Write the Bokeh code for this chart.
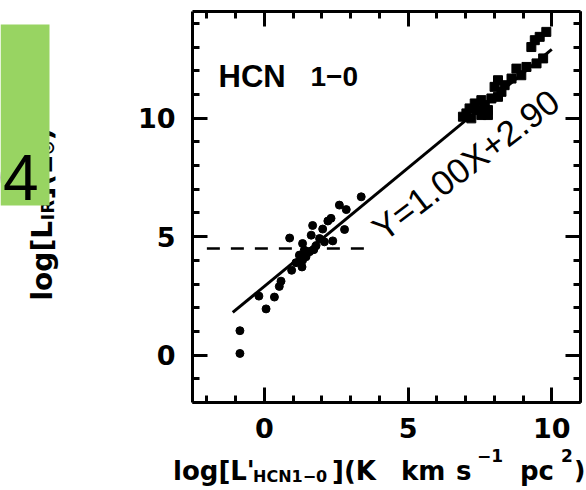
import math
from bokeh.plotting import figure
from bokeh.models import Range1d, LinearAxis, FixedTicker, Label, Div
from bokeh.layouts import row, column
from bokeh.embed import file_html
from bokeh.resources import INLINE
from bokeh.core.properties import value

# ---------------- data ----------------
circle_x = [-0.85, -0.85, 0.06, -0.19, 0.35, 0.52, 0.58, 0.95, 1.31, 1.33, 1.45,
            1.22, 1.39, 1.57, 0.88, 1.33, 1.80, 1.63, 1.92, 2.09, 2.38, 1.68,
            2.03, 2.21, 2.32, 2.79, 2.61, 2.85, 3.37, 1.10, 1.72]
circle_y = [0.07, 1.03, 1.95, 2.49, 2.45, 2.90, 3.12, 3.58, 3.72, 4.00, 4.15,
            4.22, 4.43, 4.36, 4.94, 4.71, 4.62, 5.06, 4.92, 4.78, 4.82, 5.47,
            5.32, 5.66, 5.77, 5.30, 6.33, 6.14, 6.68, 3.90, 4.45]
square_x = [9.81, 9.58, 9.41, 9.29, 9.70, 9.47, 9.12, 8.77, 8.94, 8.60, 8.13,
            8.36, 8.01, 8.25, 8.13, 7.90, 7.55, 7.32, 7.67, 7.78, 7.43, 7.14,
            7.03, 6.91, 7.20, 7.55, 7.78]
square_y = [13.64, 13.43, 13.29, 13.00, 12.52, 12.31, 12.16, 12.09, 11.81, 11.67,
            11.60, 11.39, 11.32, 11.11, 10.90, 10.83, 10.76, 10.62, 10.55, 10.34,
            10.34, 10.41, 10.20, 10.06, 9.99, 10.13, 10.13]
fit_x = [-1.1, 10.0]
fit_y = [1.8, 12.9]
dash_x = [-2.0, 3.7]
dash_y = [4.5, 4.5]
x_major = [0, 5, 10]
x_minor = [-2, -1, 0, 1, 2, 3, 4, 5, 6, 7, 8, 9, 10, 11]
y_major = [0, 5, 10]
y_minor = [-2, -1, 0, 1, 2, 3, 4, 5, 6, 7, 8, 9, 10, 11, 12, 13, 14]
fit_text = "Y=1.00X+2.90"
panel_text = ["HCN", "1\u22120"]

FONT = "DejaVu Sans"
HELV = "Liberation Sans"

H_TOP = 450           # height of the plot row (page pixels)
FL, FR, FT, FB = 192, 580, 11, 402  # plot frame in page pixels
XMIN, XMAX, YMIN, YMAX = -2.5, 11.0, -2.0, 14.5

# ---------------- left strip: y-axis title under a green box ----------------
# coordinates: x = page x, y = 490 - page y
a = figure(width=60, height=H_TOP, x_range=Range1d(0, 60),
           y_range=Range1d(490 - FB, 490 - FT),
           x_axis_location=None, y_axis_location=None, toolbar_location=None,
           output_backend="svg", min_border_left=0, min_border_right=0,
           min_border_top=FT, min_border_bottom=H_TOP - FB)
a.grid.visible = False
a.outline_line_color = None

ylab = [("log[L", 42, 190, "28px"), ("IR", 47, 270, "18px"),
        ("](L", 42, 291, "28px"), ("\u2299", 47, 335, "18px"), (")", 42, 350, "28px")]
for t, xx, yy, fs in ylab:
    a.text(x=[xx], y=[yy], text=[t], angle=math.pi / 2, text_align="left",
           text_baseline="alphabetic", text_font=value(FONT), text_font_style="bold",
           text_font_size=fs, text_color="black")

a.quad(left=[0], right=[49], bottom=[490 - 205], top=[490 - 24],
       fill_color="#98D462", line_color=None)
a.text(x=[38], y=[490 - 177], text=["04"], text_align="right", text_baseline="alphabetic",
       text_font=value(HELV), text_font_size="64px", text_color="black")

# ---------------- main plot ----------------


def dx(px):
    return XMIN + (px - FL) / (FR - FL) * (XMAX - XMIN)


def dy(py):
    return YMAX - (py - FT) / (FB - FT) * (YMAX - YMIN)


p = figure(width=526, height=H_TOP, x_range=Range1d(XMIN, XMAX), y_range=Range1d(YMIN, YMAX),
           x_axis_location=None, y_axis_location=None, toolbar_location=None,
           output_backend="svg",
           min_border_left=FL - 60, min_border_right=586 - FR,
           min_border_top=FT, min_border_bottom=H_TOP - FB)
p.grid.visible = False
p.outline_line_color = None


def style(ax, labels, standoff):
    ax.axis_line_width = 3
    ax.axis_line_color = "black"
    ax.major_tick_in = 15
    ax.major_tick_out = 0
    ax.minor_tick_in = 7
    ax.minor_tick_out = 0
    ax.major_tick_line_width = 3
    ax.minor_tick_line_width = 3
    ax.major_tick_line_color = "black"
    ax.minor_tick_line_color = "black"
    ax.major_label_text_font = FONT
    ax.major_label_text_font_style = "bold"
    ax.major_label_text_color = "black"
    if labels:
        ax.major_label_text_font_size = "27px"
        ax.major_label_standoff = standoff
    else:
        ax.major_label_text_font_size = "0px"
        ax.major_label_standoff = 0


for loc in ("below", "above"):
    ax = LinearAxis(ticker=FixedTicker(ticks=x_major, minor_ticks=x_minor))
    style(ax, loc == "below", 15)
    p.add_layout(ax, loc)
for loc in ("left", "right"):
    ax = LinearAxis(ticker=FixedTicker(ticks=y_major, minor_ticks=y_minor))
    style(ax, loc == "left", 17)
    p.add_layout(ax, loc)

p.line(fit_x, fit_y, line_width=3, line_color="black")
p.line(dash_x, dash_y, line_width=2.5, line_color="black", line_dash="13 11")
p.scatter(circle_x, circle_y, marker="circle", size=8, color="black")
p.scatter(square_x, square_y, marker="square", size=9, color="black")

p.add_layout(Label(x=dx(218), y=dy(76), text=panel_text[0], text_font=HELV,
                   text_font_style="bold", text_font_size="31px", text_color="black",
                   text_baseline="alphabetic"))
p.add_layout(Label(x=dx(310), y=dy(76), text=panel_text[1], text_font=HELV,
                   text_font_style="bold", text_font_size="28px", text_color="black",
                   text_baseline="alphabetic"))
p.add_layout(Label(x=dx(376), y=dy(232), text=fit_text, angle=0.65, text_font=HELV,
                   text_font_size="35px", text_color="black", text_baseline="alphabetic"))

# ---------------- x-axis title (HTML so sub/superscripts stay real text) ----------------
xlab = [("log[L'", 173, 480, 26), ("HCN1\u22120", 253, 483, 16),
        ("](K", 332, 480, 26), ("km", 401, 480, 26), ("s", 456, 480, 26),
        ("\u22121", 477, 463, 17), ("pc", 520, 480, 26),
        ("2", 561, 463, 17), (")", 574, 480, 25)]
spans = []
for t, px, base, fs in xlab:
    top = max(0.0, base - 0.746 * fs - H_TOP)
    spans.append(
        f'<span style="position:absolute;left:{px}px;top:{top:.1f}px;'
        f'font-family:\'{FONT}\';font-weight:bold;font-size:{fs}px;line-height:0.8;'
        f'white-space:pre;color:black;">{t}</span>')
div = Div(text=f'<div style="position:relative;width:586px;height:{490 - H_TOP}px;">'
               + "".join(spans) + "</div>",
          width=586, height=490 - H_TOP, margin=0)

layout = column(row(a, p), div)
open("out.html", "w").write(file_html(layout, INLINE))
